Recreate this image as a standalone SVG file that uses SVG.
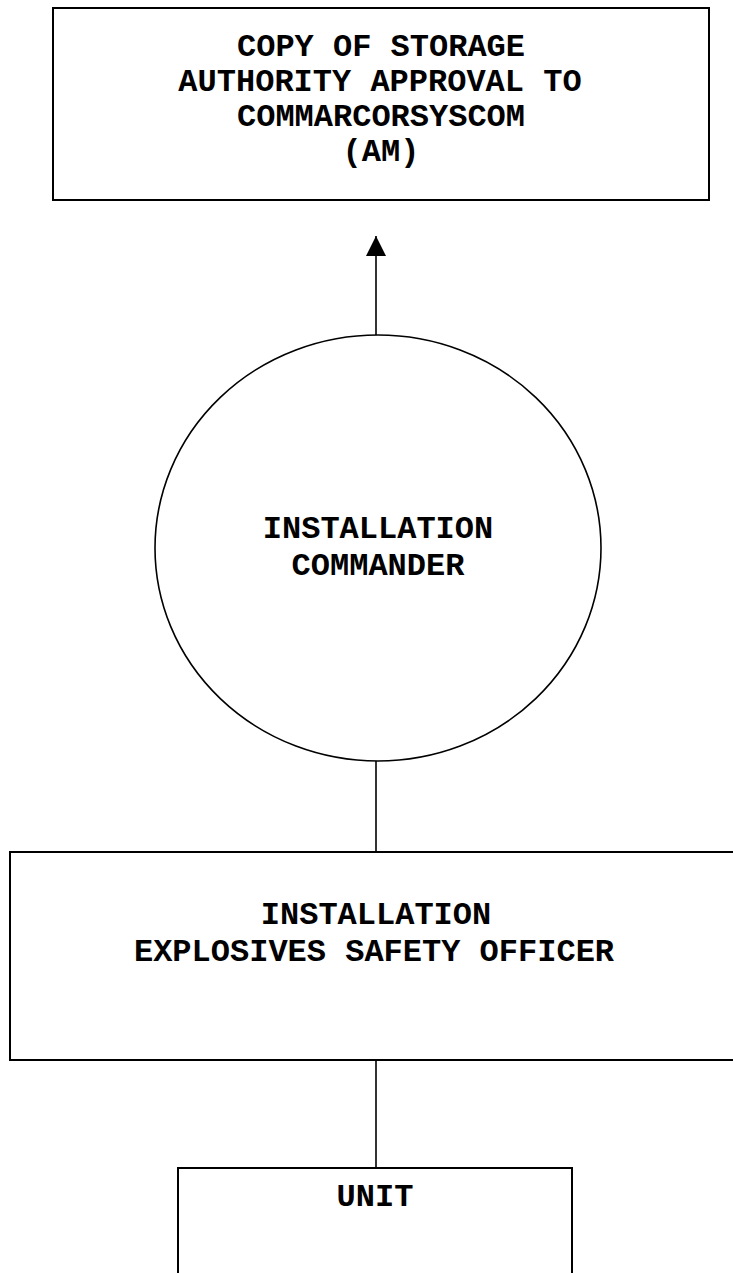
<svg xmlns="http://www.w3.org/2000/svg" width="733" height="1273" viewBox="0 0 733 1273">
<style>
.box{fill:#fff;stroke:#000;stroke-width:2}
.conn{fill:none;stroke:#000;stroke-width:1.6}
.t{font-family:"Liberation Mono","Courier New",monospace;font-weight:bold;font-size:32px;fill:#000;text-anchor:middle}
</style>
<defs>
<marker id="arr" markerUnits="userSpaceOnUse" markerWidth="20" markerHeight="20" viewBox="0 0 20 20" refX="20" refY="10" orient="auto">
<path d="M0,0 L20,10 L0,20 Z" fill="#000"/>
</marker>
</defs>
<rect width="733" height="1273" fill="#fff"/>
<g id="connectors">
<line class="conn" x1="376" y1="335" x2="376" y2="236" marker-end="url(#arr)"/>
<line class="conn" x1="376" y1="760" x2="376" y2="852"/>
<line class="conn" x1="376" y1="1060" x2="376" y2="1168"/>
</g>
<g id="storage-approval">
<rect class="box" x="53" y="8" width="656" height="192"/>
<text class="t" x="381" y="56">COPY OF STORAGE</text>
<text class="t" x="380" y="91">AUTHORITY APPROVAL TO</text>
<text class="t" x="381" y="126">COMMARCORSYSCOM</text>
<text class="t" x="381" y="161">(AM)</text>
</g>
<g id="installation-commander">
<ellipse cx="378" cy="548" rx="223" ry="213" fill="#fff" stroke="#000" stroke-width="1.6"/>
<text class="t" x="378" y="538">INSTALLATION</text>
<text class="t" x="378" y="575">COMMANDER</text>
</g>
<g id="eso">
<rect class="box" x="10" y="852" width="730" height="208"/>
<text class="t" x="376" y="924">INSTALLATION</text>
<text class="t" x="374" y="961">EXPLOSIVES SAFETY OFFICER</text>
</g>
<g id="unit">
<rect class="box" x="178" y="1168" width="394" height="120"/>
<text class="t" x="375" y="1206">UNIT</text>
</g>
</svg>
